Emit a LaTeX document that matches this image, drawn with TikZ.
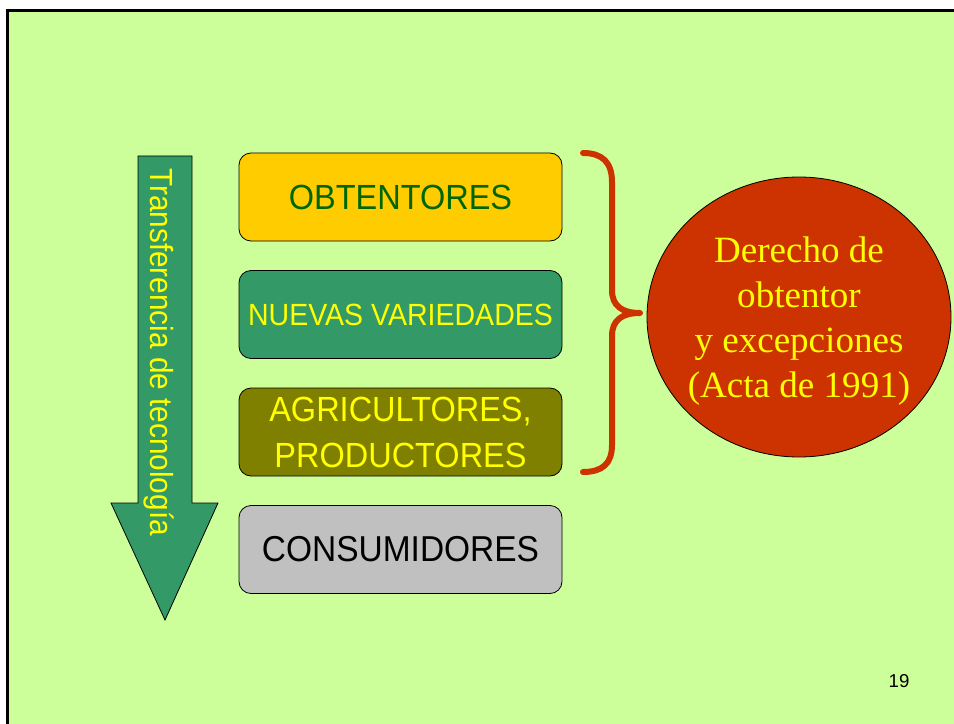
\documentclass[tikz,border=0pt]{standalone}
\usepackage{fontspec}
\setmainfont{Liberation Sans}
\newfontfamily\narrowsans[FakeStretch=0.93]{Liberation Sans}
\newfontfamily\timesf{Liberation Serif}
\usetikzlibrary{shapes.geometric}
\definecolor{bgc}{HTML}{CCFF99}
\definecolor{gold}{HTML}{FFCC00}
\definecolor{dgreen}{HTML}{006600}
\definecolor{sea}{HTML}{339966}
\definecolor{olivec}{HTML}{808000}
\definecolor{greyc}{HTML}{C0C0C0}
\definecolor{rust}{HTML}{CC3300}
\definecolor{yel}{HTML}{FFFF00}
\tikzset{
  stagebox/.style={draw=black, line width=0.6pt, rounded corners=9pt,
    minimum width=242.25pt, minimum height=66pt, inner sep=0pt, align=center},
  arrowshape/.style={draw=black, line width=0.6pt, fill=sea},
  bracestyle/.style={draw=rust, line width=4.5pt, line cap=round, line join=round},
  frameline/.style={draw=black, line width=2.25pt}
}
\begin{document}
\begin{tikzpicture}[x=0.75pt,y=-0.75pt]
\useasboundingbox (0,0) rectangle (954,724);
% background and frame
\fill[bgc] (6,9) rectangle (954,724);
\draw[frameline] (6,10.5) -- (954,10.5);
\draw[frameline] (7.5,9) -- (7.5,724);
% arrow
\draw[arrowshape] (138,156) -- (192,156) -- (192,503) -- (218,503) -- (165,620) -- (111,503) -- (138,503) -- cycle;
\node[rotate=-90, anchor=base, inner sep=0pt, text=yel, font=\narrowsans\fontsize{24pt}{28pt}\selectfont] (tt) at (150,352) {Transferencia de tecnología};
% boxes
\node[stagebox, fill=gold, text=dgreen, font=\narrowsans\fontsize{26.2pt}{30pt}\selectfont] (obt) at (400.5,197) {OBTENTORES};
\node[stagebox, fill=sea, text=yel, font=\narrowsans\fontsize{23pt}{27pt}\selectfont] (nue) at (400.5,314.5) {NUEVAS VARIEDADES};
\node[stagebox, fill=olivec, text=yel, font=\narrowsans\fontsize{26.2pt}{34.5pt}\selectfont] (agr) at (400.5,432) {AGRICULTORES,\\PRODUCTORES};
\node[stagebox, fill=greyc, text=black, font=\narrowsans\fontsize{27pt}{31pt}\selectfont] (con) at (400.5,549.5) {CONSUMIDORES};
% brace
\draw[bracestyle] (583,153) .. controls (602,153) and (612,162) .. (612,182) -- (612,290) .. controls (612,306) and (622,313) .. (640,313) .. controls (622,313) and (612,320) .. (612,336) -- (612,445) .. controls (612,464) and (602,472) .. (583,472);
% ellipse
\node[ellipse, draw=black, line width=0.6pt, fill=rust, minimum width=228pt, minimum height=210pt, inner sep=0pt] (der) at (799,317) {};
\node[inner sep=0pt, align=center, text=yel, font=\timesf\fontsize{27.8pt}{33.8pt}\selectfont] (dertext) at (799,321) {Derecho de\\obtentor\\y excepciones\\(Acta de 1991)};
% page number
\node[font=\fontsize{14pt}{17pt}\selectfont, inner sep=0pt] (pg) at (899,681) {19};
\end{tikzpicture}
\end{document}
